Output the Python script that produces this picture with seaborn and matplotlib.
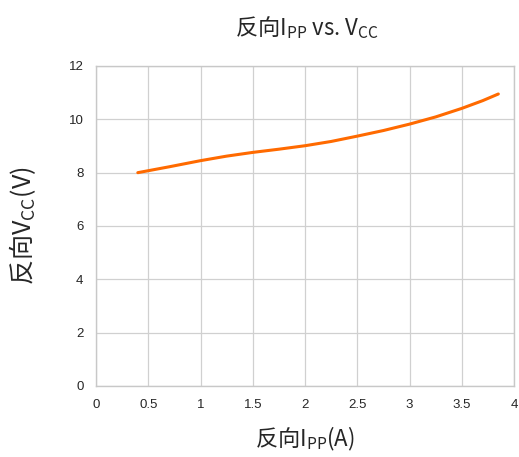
import matplotlib
matplotlib.use("Agg")
import matplotlib.pyplot as plt
import seaborn as sns
import pandas as pd

# reverse I_PP (A) vs V_CC (V)
ipp = [0.40, 0.70, 1.00, 1.25, 1.50, 1.75, 2.00, 2.25, 2.50, 2.75, 3.00, 3.25, 3.50, 3.70, 3.85]
vcc = [8.00, 8.22, 8.45, 8.62, 8.76, 8.88, 9.01, 9.17, 9.37, 9.58, 9.82, 10.09, 10.41, 10.70, 10.95]

x_ticks = [0, 0.5, 1, 1.5, 2, 2.5, 3, 3.5, 4]
y_ticks = [0, 2, 4, 6, 8, 10, 12]

df = pd.DataFrame({"ipp": ipp, "vcc": vcc})

sns.set_style("white")
plt.rcParams['font.family'] = ['Noto Sans CJK SC', 'DejaVu Sans']

fig = plt.figure(figsize=(5.19, 4.57), dpi=100)
ax = fig.add_axes([96 / 519, 1 - 386 / 457, (514 - 96) / 519, (386 - 66) / 457])

sns.lineplot(data=df, x="ipp", y="vcc", ax=ax, color="#ff6a00", linewidth=2.2)

ax.set_xlim(0, 4)
ax.set_ylim(0, 12)
ax.set_xticks(x_ticks)
ax.set_xticklabels([f"{t:g}" for t in x_ticks], family="Liberation Sans", fontsize=9.5)
ax.set_yticks(y_ticks)
ax.set_yticklabels([str(t) for t in y_ticks], family="Liberation Sans", fontsize=9.5)
ax.grid(True, color="#d0d0d0", linewidth=0.9)
for s in ax.spines.values():
    s.set_color("#c8c8c8")
    s.set_linewidth(1.0)
ax.tick_params(axis="both", length=4, color="#c8c8c8", pad=5)

ax.set_xlabel("反向I$_{\\mathregular{PP}}$(A)", fontsize=16, labelpad=10)
ax.set_ylabel("反向V$_{\\mathregular{CC}}$(V)", fontsize=18, labelpad=22)
fig.text(307 / 519, 1 - 28 / 457, "反向I$_{\\mathregular{PP}}$ vs. V$_{\\mathregular{CC}}$",
         ha="center", va="center", fontsize=16)

fig.savefig("out.png", dpi=100)
